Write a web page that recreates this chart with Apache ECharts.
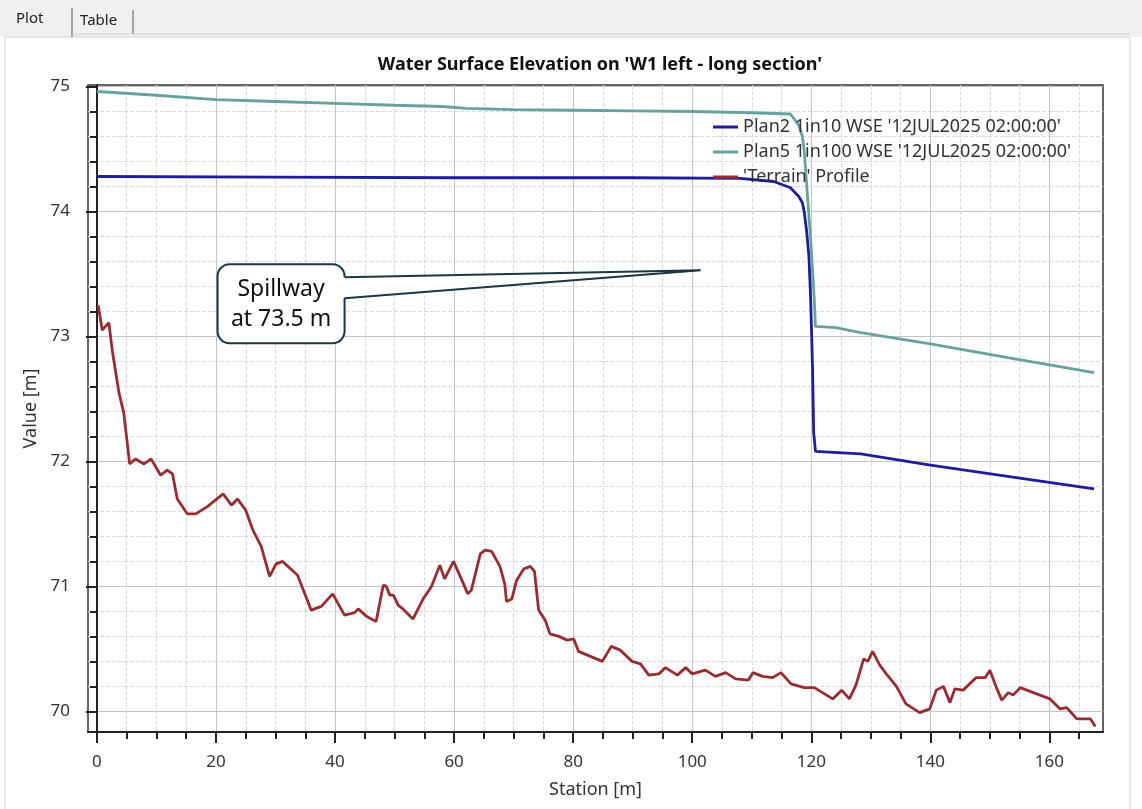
<!DOCTYPE html>
<html>
<head>
<meta charset="utf-8">
<script src="https://cdn.jsdelivr.net/npm/echarts@6/dist/echarts.min.js"></script>
<style>
  html, body { margin: 0; padding: 0; background: #ffffff; }
  #echart { width: 1142px; height: 809px; }
</style>
</head>
<body>
<div id="echart"></div>
<script>
// tick labels
const xTicks = [0, 20, 40, 60, 80, 100, 120, 140, 160];
const yTicks = [70, 71, 72, 73, 74, 75];

// Plan2 1in10 WSE
const plan2Station = [0, 30, 60, 90, 108, 113.7, 116.5, 117.9, 118.5, 118.8, 119.2, 119.6, 119.9, 120.2, 120.4, 120.7, 128.3, 140, 153, 167.5];
const plan2Wse = [74.28, 74.275, 74.27, 74.27, 74.265, 74.24, 74.19, 74.12, 74.07, 74.0, 73.85, 73.64, 73.29, 72.76, 72.23, 72.08, 72.06, 71.97, 71.88, 71.78];

// Plan5 1in100 WSE
const plan5Station = [0, 10, 20, 30, 40, 50, 58, 62, 70, 80, 90, 100, 110, 116.5, 117.9, 118.5, 118.8, 119.4, 120.0, 120.5, 120.7, 124.1, 128.3, 140, 153, 167.5];
const plan5Wse = [74.96, 74.93, 74.895, 74.88, 74.865, 74.85, 74.84, 74.825, 74.815, 74.81, 74.805, 74.8, 74.79, 74.78, 74.69, 74.6, 74.49, 74.1, 73.7, 73.3, 73.08, 73.07, 73.03, 72.94, 72.83, 72.71];

// 'Terrain' Profile
const terrainStation = [0.2, 0.9, 2.0, 2.6, 3.7, 4.5, 5.5, 6.5, 7.9, 9.1, 10.7, 11.8, 12.7, 13.5, 15.2, 16.6, 18.6, 21.2, 22.6, 23.6,
  25.0, 26.2, 27.6, 29.0, 30.1, 31.2, 33.7, 36.0, 37.7, 39.6, 41.6, 43.3, 43.9, 45.3, 46.9, 48.1, 48.6, 49.2, 49.8, 50.6,
  51.4, 53.1, 54.8, 56.2, 57.6, 58.4, 59.9, 61.3, 62.3, 62.9, 64.4, 65.2, 66.3, 67.7, 68.5, 68.8, 69.7, 70.5, 71.7, 72.8,
  73.5, 74.2, 75.3, 76.1, 77.6, 79.0, 80.1, 80.9, 82.9, 84.9, 86.4, 87.9, 89.9, 91.3, 92.7, 94.4, 95.5, 97.5, 98.9, 100.0,
  102.2, 103.9, 105.6, 107.3, 109.4, 110.2, 111.8, 113.5, 114.9, 116.6, 118.8, 120.5, 123.6, 125.1, 126.4, 127.5, 128.8, 129.5, 130.3, 131.5,
  132.6, 134.3, 135.9, 138.2, 139.9, 141.0, 142.2, 143.3, 144.1, 145.5, 147.7, 149.2, 150.0, 151.1, 152.0, 153.1, 153.9, 155.1, 157.3, 160.1,
  161.8, 162.9, 164.6, 166.9, 167.7];
const terrainElev = [73.25, 73.05, 73.11, 72.88, 72.55, 72.39, 71.98, 72.02, 71.98, 72.02, 71.89, 71.93, 71.9, 71.70, 71.58, 71.58, 71.64, 71.74, 71.65, 71.70,
  71.61, 71.45, 71.32, 71.08, 71.18, 71.2, 71.09, 70.81, 70.84, 70.94, 70.77, 70.79, 70.82, 70.76, 70.72, 71.01, 71.0, 70.93, 70.93, 70.85,
  70.82, 70.74, 70.90, 71.0, 71.17, 71.06, 71.2, 71.05, 70.94, 70.97, 71.26, 71.29, 71.28, 71.16, 71.02, 70.88, 70.90, 71.05, 71.14, 71.16,
  71.12, 70.81, 70.73, 70.62, 70.60, 70.57, 70.58, 70.48, 70.44, 70.40, 70.52, 70.49, 70.40, 70.38, 70.29, 70.30, 70.35, 70.29, 70.35, 70.30,
  70.33, 70.28, 70.31, 70.26, 70.25, 70.31, 70.28, 70.27, 70.31, 70.22, 70.19, 70.19, 70.10, 70.17, 70.10, 70.21, 70.42, 70.40, 70.48, 70.37,
  70.30, 70.20, 70.06, 69.99, 70.02, 70.17, 70.20, 70.07, 70.18, 70.17, 70.27, 70.27, 70.33, 70.19, 70.09, 70.15, 70.13, 70.19, 70.15, 70.10,
  70.02, 70.03, 69.94, 69.94, 69.88];

// annotation
const spillwayPoint = [101.4, 73.53];
const spillwayText = 'Spillway\nat 73.5 m';

const pairs = (xs, ys) => xs.map((x, i) => [x, ys[i]]);
const FONT = '"Noto Sans", "Open Sans", sans-serif';

const myChart = echarts.init(document.getElementById('echart'), null, { renderer: 'canvas' });

myChart.setOption({
  animation: false,
  backgroundColor: '#ffffff',
  title: {
    text: "Water Surface Elevation on 'W1 left - long section'",
    left: 595,
    top: 51,
    textAlign: 'center',
    textStyle: { fontFamily: FONT, fontSize: 18, fontWeight: 'bold', color: '#111' },
  },
  legend: {
    orient: 'vertical',
    left: 708,
    top: 113,
    itemWidth: 25,
    itemHeight: 3,
    itemGap: 7,
    icon: 'rect',
    textStyle: { fontFamily: FONT, fontSize: 18, color: '#333', lineHeight: 18 },
    data: [
      "Plan2 1in10 WSE '12JUL2025 02:00:00'",
      "Plan5 1in100 WSE '12JUL2025 02:00:00'",
      "'Terrain' Profile",
    ],
  },
  grid: {
    left: 88,
    right: 39,
    top: 85,
    bottom: 77,
    show: true,
    borderColor: '#333',
    borderWidth: 1.5,
    backgroundColor: '#ffffff',
  },
  xAxis: {
    type: 'value',
    min: -1.5,
    max: 169,
    minInterval: 20,
    maxInterval: 20,
    name: 'Station [m]',
    nameLocation: 'middle',
    nameGap: 49,
    nameTextStyle: { fontFamily: FONT, fontSize: 18, color: '#333' },
    axisLine: { show: true, onZero: false, lineStyle: { color: '#222', width: 2 } },
    axisTick: { show: true, length: 11, customValues: xTicks, lineStyle: { color: '#222', width: 2 } },
    minorTick: { show: true, splitNumber: 4, length: 7, lineStyle: { color: '#222', width: 2 } },
    axisLabel: { customValues: xTicks, margin: 22, fontFamily: FONT, fontSize: 17, color: '#333' },
    splitLine: { show: true, lineStyle: { color: '#c4c4c4', width: 1 } },
    minorSplitLine: { show: true, lineStyle: { color: '#dadada', width: 1, type: 'dashed' } },
  },
  yAxis: {
    type: 'value',
    min: 69.835,
    max: 75.012,
    minInterval: 1,
    maxInterval: 1,
    name: 'Value [m]',
    nameLocation: 'middle',
    nameGap: 36,
    nameTextStyle: { fontFamily: FONT, fontSize: 18, color: '#333' },
    axisLine: { show: true, lineStyle: { color: '#222', width: 2 } },
    axisTick: { show: true, length: 11, customValues: yTicks, lineStyle: { color: '#222', width: 2 } },
    minorTick: { show: true, splitNumber: 5, length: 7, lineStyle: { color: '#222', width: 2 } },
    axisLabel: { customValues: yTicks, margin: 18, fontFamily: FONT, fontSize: 17, color: '#333' },
    splitLine: { show: true, lineStyle: { color: '#c4c4c4', width: 1 } },
    minorSplitLine: { show: true, lineStyle: { color: '#dadada', width: 1, type: 'dashed' } },
  },
  series: [
    {
      name: "Plan2 1in10 WSE '12JUL2025 02:00:00'",
      type: 'line',
      data: pairs(plan2Station, plan2Wse),
      showSymbol: false,
      symbol: 'none',
      color: '#1e1e98',
      lineStyle: { width: 2.8, color: '#1e1e98' },
    },
    {
      name: "Plan5 1in100 WSE '12JUL2025 02:00:00'",
      type: 'line',
      data: pairs(plan5Station, plan5Wse),
      showSymbol: false,
      symbol: 'none',
      color: '#68a29e',
      lineStyle: { width: 2.8, color: '#68a29e' },
    },
    {
      name: "'Terrain' Profile",
      type: 'line',
      data: pairs(terrainStation, terrainElev),
      showSymbol: false,
      symbol: 'none',
      color: '#962d32',
      lineStyle: { width: 2.8, color: '#962d32' },
    },
  ],
});

// tab strip + spillway callout, placed after the grid exists
const tip = myChart.convertToPixel({ gridIndex: 0 }, spillwayPoint);
const box = { x: tip[0] - 483, y: tip[1] - 6, w: 127, h: 79 };
const boxRight = box.x + box.w;

myChart.setOption({
  graphic: [
    { type: 'rect', z: 0, silent: true, shape: { x: 0, y: 0, width: 1142, height: 37 }, style: { fill: '#f0f0f0' } },
    { type: 'rect', z: 0, silent: true, shape: { x: 5, y: 37, width: 1125, height: 780 }, style: { fill: 'none', stroke: '#d4d4d4', lineWidth: 1 } },
    { type: 'line', z: 1, silent: true, shape: { x1: 72, y1: 8, x2: 72, y2: 37 }, style: { stroke: '#8a8a8a', lineWidth: 1.5 } },
    { type: 'line', z: 1, silent: true, shape: { x1: 133, y1: 10, x2: 133, y2: 34 }, style: { stroke: '#8a8a8a', lineWidth: 1.5 } },
    { type: 'line', z: 1, silent: true, shape: { x1: 72, y1: 34, x2: 1130, y2: 34 }, style: { stroke: '#d0d0d0', lineWidth: 1 } },
    { type: 'text', z: 1, silent: true, x: 16, y: 11, style: { text: 'Plot', fontFamily: FONT, fontSize: 15, fill: '#222' } },
    { type: 'text', z: 1, silent: true, x: 80, y: 13, style: { text: 'Table', fontFamily: FONT, fontSize: 15, fill: '#222' } },

    { type: 'rect', z: 100, silent: true, shape: { x: box.x, y: box.y, width: box.w, height: box.h, r: 12 },
      style: { fill: '#ffffff', stroke: '#1d3644', lineWidth: 2 } },
    { type: 'polygon', z: 101, silent: true,
      shape: { points: [[boxRight - 3, tip[1] + 7], [tip[0], tip[1]], [boxRight - 3, tip[1] + 28]] },
      style: { fill: '#ffffff' } },
    { type: 'polyline', z: 102, silent: true,
      shape: { points: [[boxRight, tip[1] + 7], [tip[0], tip[1]], [boxRight, tip[1] + 28]] },
      style: { fill: 'none', stroke: '#1d3644', lineWidth: 2 } },
    { type: 'text', z: 103, silent: true, x: box.x + box.w / 2, y: box.y + box.h / 2 + 1,
      style: { text: spillwayText, align: 'center', verticalAlign: 'middle', fontFamily: FONT,
        fontSize: 23, lineHeight: 30, fill: '#111' } },
  ],
});
</script>
</body>
</html>
